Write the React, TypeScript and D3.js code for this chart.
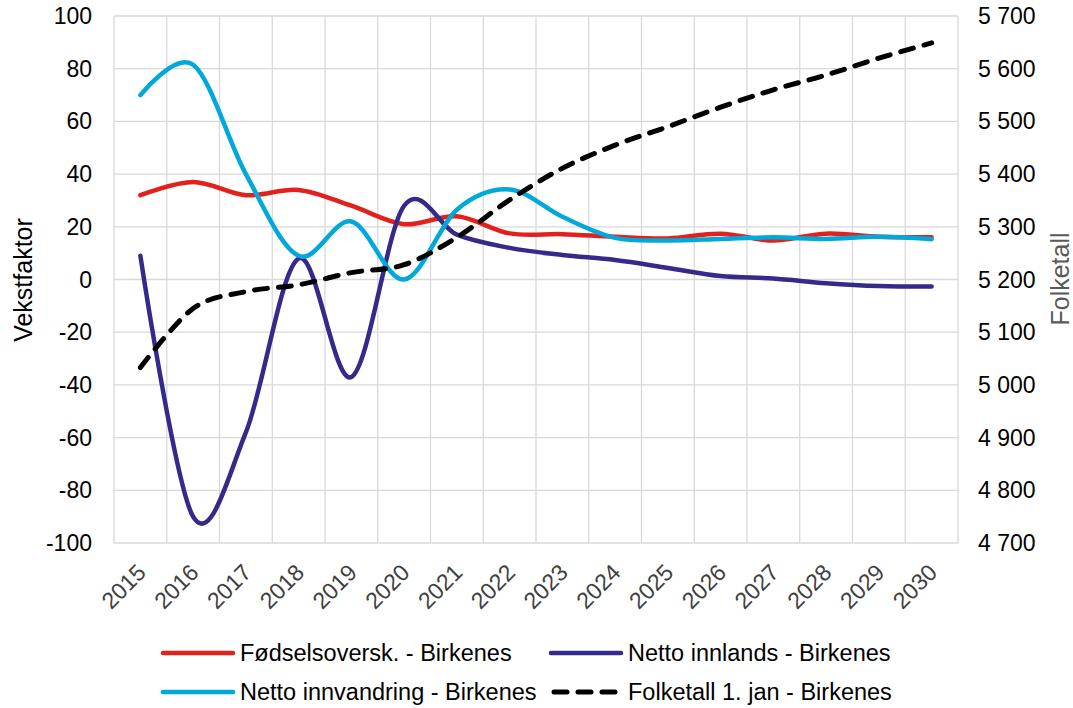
import React, { useEffect, useRef } from "react";
import * as d3 from "d3";

const years = ["2015","2016","2017","2018","2019","2020","2021","2022","2023","2024","2025","2026","2027","2028","2029","2030"];
const fodselsoverskudd = [32, 37, 32, 34, 28, 21, 24, 17.5, 17.2, 16.2, 15.6, 17.4, 14.8, 17.4, 16.2, 16];
const nettoInnlands = [9, -90, -58, 8, -37, 28, 17, 12, 9.3, 7.4, 4.4, 1.3, 0.4, -1.4, -2.5, -2.7];
const nettoInnvandring = [70, 81.5, 40, 9, 22, 0, 26.5, 34.2, 23.8, 15.8, 14.8, 15.4, 16, 15.4, 16.2, 15.3];
const folketall = [5033, 5145, 5177, 5190, 5213, 5228, 5280, 5351, 5411, 5455, 5490, 5527, 5560, 5588, 5620, 5649];
const leftTicks = [-100, -80, -60, -40, -20, 0, 20, 40, 60, 80, 100];
const rightTicks = [4700, 4800, 4900, 5000, 5100, 5200, 5300, 5400, 5500, 5600, 5700];

const seriesNames = {
  fod: "Fødselsoversk. - Birkenes",
  inn: "Netto innlands - Birkenes",
  vand: "Netto innvandring - Birkenes",
  folk: "Folketall 1. jan - Birkenes",
};

const colors = { fod: "#e2211c", inn: "#35298a", vand: "#00a9d9", folk: "#000000" };

export default function App() {
  const ref = useRef<SVGSVGElement>(null);
  useEffect(() => {
    const svg = d3.select(ref.current);
    svg.selectAll("*").remove();
    const left = 114, right = 958, top = 16, bottom = 543;
    const font = "'Liberation Sans', Arial, sans-serif";

    const x = d3.scaleBand<string>().domain(years).range([left, right]).padding(0);
    const cx = (i: number) => (x(years[i]) as number) + x.bandwidth() / 2;
    const yL = d3.scaleLinear().domain([-100, 100]).range([bottom, top]);
    const yR = d3.scaleLinear().domain([4700, 5700]).range([bottom, top]);

    const g = svg.append("g");
    // grid
    g.selectAll("line.h").data(leftTicks).enter().append("line")
      .attr("x1", left).attr("x2", right)
      .attr("y1", (d) => yL(d)).attr("y2", (d) => yL(d))
      .attr("stroke", "#d9d9d9").attr("stroke-width", 1.3);
    const vb = d3.range(years.length + 1).map((i) => left + i * x.bandwidth());
    g.selectAll("line.v").data(vb).enter().append("line")
      .attr("x1", (d) => d).attr("x2", (d) => d)
      .attr("y1", top).attr("y2", bottom)
      .attr("stroke", "#d9d9d9").attr("stroke-width", 1.3);

    // left ticks
    g.selectAll("text.l").data(leftTicks).enter().append("text")
      .attr("x", 92).attr("y", (d) => yL(d)).attr("dy", "0.35em")
      .attr("text-anchor", "end").attr("font-family", font).attr("font-size", 23)
      .attr("fill", "#000").text((d) => String(d));
    const fmt = (v: number) => {
      const s = String(v);
      return s.slice(0, s.length - 3) + " " + s.slice(s.length - 3);
    };
    g.selectAll("text.r").data(rightTicks).enter().append("text")
      .attr("x", 978).attr("y", (d) => yR(d)).attr("dy", "0.35em")
      .attr("text-anchor", "start").attr("font-family", font).attr("font-size", 23)
      .attr("fill", "#000").text((d) => fmt(d));

    // x labels
    g.selectAll("text.x").data(years).enter().append("text")
      .attr("transform", (d, i) => `translate(${cx(i) + 7},${574}) rotate(-45)`)
      .attr("text-anchor", "end").attr("font-family", font).attr("font-size", 23)
      .attr("fill", "#404040").text((d) => d);

    // axis titles
    g.append("text").attr("transform", `translate(32,280) rotate(-90)`)
      .attr("text-anchor", "middle").attr("font-family", font).attr("font-size", 25)
      .attr("fill", "#000").text("Vekstfaktor");
    g.append("text").attr("transform", `translate(1069,279) rotate(-90)`)
      .attr("text-anchor", "middle").attr("font-family", font).attr("font-size", 25)
      .attr("fill", "#595959").text("Folketall");

    const curve = d3.curveCatmullRom.alpha(0);
    const lineL = d3.line<number>().x((d, i) => cx(i)).y((d) => yL(d)).curve(curve);
    const lineR = d3.line<number>().x((d, i) => cx(i)).y((d) => yR(d)).curve(curve);

    const addPath = (data: number[], gen: any, color: string, dashed = false) => {
      const p = g.append("path").attr("d", gen(data)).attr("fill", "none")
        .attr("stroke", color).attr("stroke-width", dashed ? 5 : 4.5)
        .attr("stroke-linecap", "round").attr("stroke-linejoin", "round");
      if (dashed) p.attr("stroke-dasharray", "13 11");
    };
    addPath(fodselsoverskudd, lineL, colors.fod);
    addPath(nettoInnlands, lineL, colors.inn);
    addPath(nettoInnvandring, lineL, colors.vand);
    addPath(folketall, lineR, colors.folk, true);

    // legend
    const legend = [
      { name: seriesNames.fod, color: colors.fod, x: 163, y: 653, dashed: false },
      { name: seriesNames.inn, color: colors.inn, x: 551, y: 653, dashed: false },
      { name: seriesNames.vand, color: colors.vand, x: 163, y: 692, dashed: false },
      { name: seriesNames.folk, color: colors.folk, x: 551, y: 692, dashed: true },
    ];
    legend.forEach((l) => {
      const ln = g.append("line").attr("x1", l.x).attr("x2", l.x + 70)
        .attr("y1", l.y).attr("y2", l.y).attr("stroke", l.color)
        .attr("stroke-width", l.dashed ? 5 : 4.5).attr("stroke-linecap", "round");
      if (l.dashed) ln.attr("stroke-dasharray", "13 11").attr("x1", l.x + 3).attr("x2", l.x + 73);
      g.append("text").attr("x", l.x + 77).attr("y", l.y).attr("dy", "0.35em")
        .attr("font-family", font).attr("font-size", 23.5).attr("fill", "#000").text(l.name);
    });
  }, []);
  return (
    <svg ref={ref} width={1073} height={708}
      style={{ position: "absolute", left: 0, top: 0, background: "#fff" }} />
  );
}
